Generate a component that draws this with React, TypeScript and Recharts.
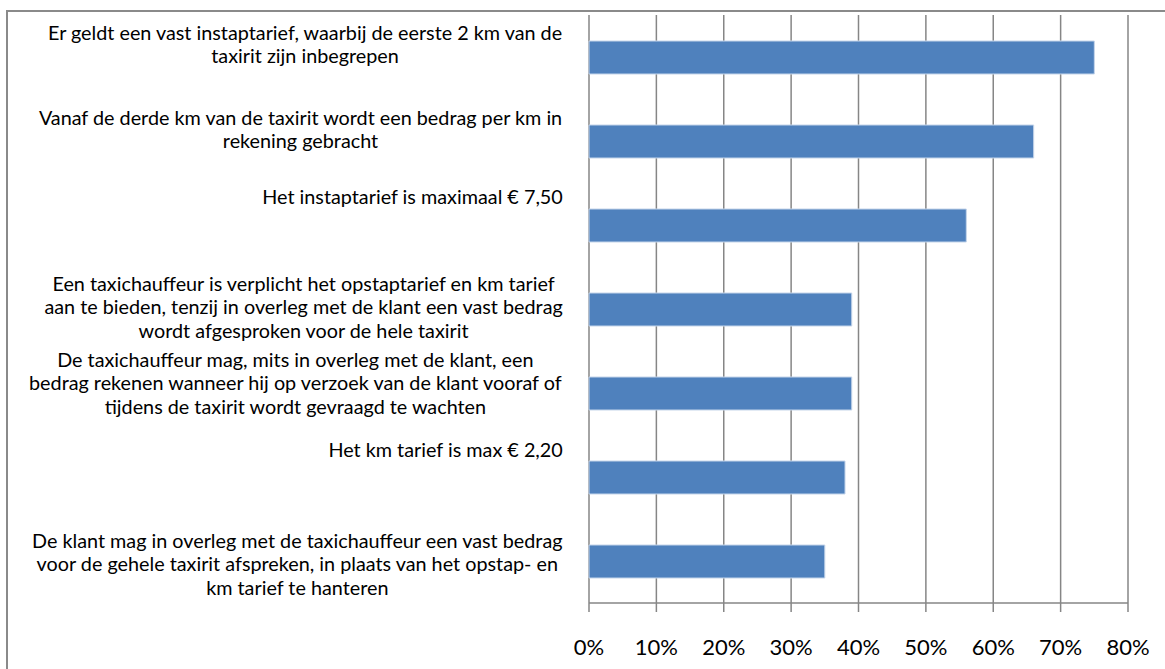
import React from 'react';
import { BarChart, Bar, XAxis, YAxis, CartesianGrid } from 'recharts';

const categories = [
  "Er geldt een vast instaptarief, waarbij de eerste 2 km van de\ntaxirit zijn inbegrepen",
  "Vanaf de derde km van de taxirit wordt een bedrag per km in\nrekening gebracht",
  "Het instaptarief is maximaal € 7,50",
  "Een taxichauffeur is verplicht het opstaptarief en km tarief\naan te bieden, tenzij in overleg met de klant een vast bedrag\nwordt afgesproken voor de hele taxirit",
  "De taxichauffeur mag, mits in overleg met de klant, een\nbedrag rekenen wanneer hij op verzoek van de klant vooraf of\ntijdens de taxirit wordt gevraagd te wachten",
  "Het km tarief is max € 2,20",
  "De klant mag in overleg met de taxichauffeur een vast bedrag\nvoor de gehele taxirit afspreken, in plaats van het opstap- en\nkm tarief te hanteren",
];
const values = [0.75, 0.66, 0.56, 0.39, 0.39, 0.38, 0.35];
const xTicks = [0, 0.1, 0.2, 0.3, 0.4, 0.5, 0.6, 0.7, 0.8];
const xTickLabels = ["0%", "10%", "20%", "30%", "40%", "50%", "60%", "70%", "80%"];
const boundaryTicks = [0, 1, 2, 3, 4, 5, 6, 7];

const data = categories.map((name, i) => ({ name, value: values[i] }));

// layout
const W = 1165;
const H = 669;
const PLOT_LEFT = 589;
const PLOT_RIGHT = 1128;
const PLOT_TOP = 15;
const PLOT_BOTTOM = 603;
const BAND = (PLOT_BOTTOM - PLOT_TOP) / categories.length;
const LABEL_RIGHT = 563;
const LABEL_FONT = 'Lato, "Open Sans", sans-serif';
const LABEL_SIZE = 19.8;
const LINE_H = 23.3;
// first-line baseline offset from band top, per category (label placement)
const LABEL_BASELINE = [25, 26, 21, 24, 16, 22, 29];
const GRID = '#868686';

let ctx: CanvasRenderingContext2D | null = null;
function measure(s: string): number {
  if (!ctx) {
    const c = document.createElement('canvas');
    ctx = c.getContext('2d');
  }
  if (!ctx) return s.length * LABEL_SIZE * 0.5;
  ctx.font = `${LABEL_SIZE}px ${LABEL_FONT}`;
  return ctx.measureText(s).width;
}

const CatTick = (props: any) => {
  const { y, payload } = props;
  const idx = payload.index ?? categories.indexOf(payload.value);
  const lines = String(payload.value).split('\n');
  const maxW = Math.max(...lines.map(measure));
  const cx = LABEL_RIGHT - maxW / 2;
  const bandTop = y - BAND / 2;
  const base = bandTop + LABEL_BASELINE[idx];
  return (
    <g>
      {lines.map((l, i) => (
        <text
          key={i}
          x={cx}
          y={base + i * LINE_H}
          textAnchor="middle"
          fontFamily={LABEL_FONT}
          fontSize={LABEL_SIZE}
          fill="#000"
        >
          {l}
        </text>
      ))}
    </g>
  );
};

const XTick = (props: any) => {
  const { x, payload } = props;
  const i = xTicks.indexOf(payload.value);
  return (
    <text
      x={x}
      y={PLOT_BOTTOM + 52}
      textAnchor="middle"
      fontFamily={LABEL_FONT}
      fontSize={22}
      fill="#000"
    >
      {xTickLabels[i >= 0 ? i : 0]}
    </text>
  );
};

export default function App() {
  return (
    <div
      style={{
        position: 'absolute',
        left: 0,
        top: 0,
        width: W,
        height: H,
        overflow: 'hidden',
        background: '#fff',
      }}
    >
      <div
        style={{
          position: 'absolute',
          left: 6,
          top: 10,
          width: 1300,
          height: 800,
          border: '2px solid #8a8a8a',
          boxSizing: 'border-box',
        }}
      />
      <div style={{ position: 'absolute', left: 0, top: 0 }}>
        <BarChart
          width={W}
          height={H}
          layout="vertical"
          data={data}
          margin={{ top: PLOT_TOP, right: W - PLOT_RIGHT, left: 0, bottom: 6 }}
        >
          <CartesianGrid
            horizontal={false}
            vertical={true}
            stroke={GRID}
            strokeWidth={1.5}
          />
          <XAxis
            type="number"
            domain={[0, 0.8]}
            ticks={xTicks}
            interval={0}
            height={H - PLOT_BOTTOM - 6}
            tickSize={9}
            tickLine={{ stroke: GRID, strokeWidth: 1.5 }}
            axisLine={{ stroke: GRID, strokeWidth: 1.5 }}
            tick={<XTick />}
          />
          <YAxis
            yAxisId="cat"
            type="category"
            dataKey="name"
            width={PLOT_LEFT}
            axisLine={false}
            tickLine={false}
            interval={0}
            tick={<CatTick />}
          />
          <YAxis
            yAxisId="bounds"
            type="number"
            domain={[0, 7]}
            ticks={boundaryTicks}
            allowDataOverflow
            width={0}
            tickSize={7}
            tick={false}
            tickLine={{ stroke: GRID, strokeWidth: 1.5 }}
            axisLine={{ stroke: GRID, strokeWidth: 1.5 }}
          />
          <Bar
            yAxisId="cat"
            dataKey="value"
            fill="#4f81bd"
            stroke="#c5d5ea"
            strokeWidth={1}
            barSize={33}
            isAnimationActive={false}
          />
        </BarChart>
      </div>
    </div>
  );
}
